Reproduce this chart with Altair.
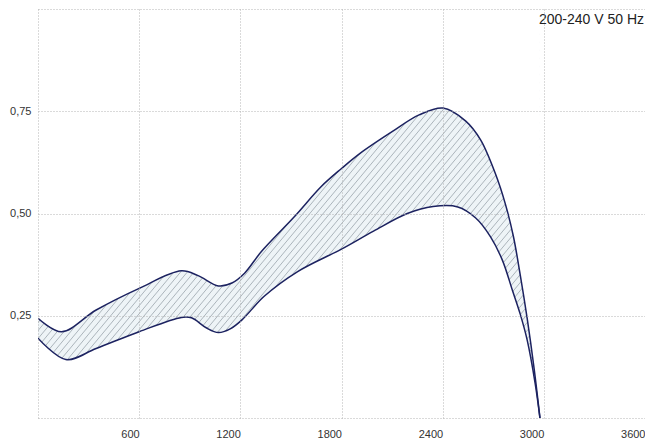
import altair as alt
import numpy as np
import pandas as pd

# Upper boundary of the operating band
upper_x = [0, 140, 345, 600, 850, 950, 1070, 1150, 1225, 1325, 1520, 1680, 1800, 1910,
           2100, 2260, 2402, 2537, 2625, 2713, 2772, 2819, 2860, 2901, 2942, 2977]
upper_y = [0.244, 0.211, 0.264, 0.317, 0.36, 0.348, 0.323, 0.33, 0.354, 0.407, 0.492, 0.566,
           0.61, 0.647, 0.70, 0.741, 0.758, 0.726, 0.68, 0.597, 0.523, 0.445, 0.35, 0.244,
           0.122, 0.0]

# Lower boundary of the operating band
lower_x = [0, 165, 345, 600, 850, 910, 1000, 1070, 1140, 1210, 1340, 1540, 1800, 1990, 2190,
           2343, 2490, 2596, 2684, 2754, 2813, 2860, 2901, 2948, 2977]
lower_y = [0.195, 0.143, 0.17, 0.211, 0.246, 0.245, 0.22, 0.209, 0.218, 0.240, 0.297, 0.358,
           0.413, 0.457, 0.50, 0.517, 0.516, 0.489, 0.443, 0.386, 0.313, 0.254, 0.191,
           0.086, 0.0]

x_ticks = [0, 600, 1200, 1800, 2400, 3000, 3600]
y_ticks = [0, 0.25, 0.5, 0.75, 1.0]
label_text = "200-240 V 50 Hz"

W, H = 607, 409
X_MAX, Y_MAX = 3600, 1.0
CURVE = "catmull-rom"

up = pd.DataFrame({"x": upper_x, "y": upper_y, "top": 1.05})
lo = pd.DataFrame({"x": lower_x, "y": lower_y, "bot": -0.05})
right = pd.DataFrame({"x": [max(upper_x)], "x2": [3700], "y": [-0.05], "y2": [1.05]})

# hatch pattern (decoration): diagonal "/" lines
slope_px = 1.2
dx_data = (H / slope_px) / W * X_MAX
step = 6.7 / W * X_MAX
starts = np.arange(-dx_data, X_MAX, step)
hatch = pd.DataFrame({"hx": starts, "hx2": starts + dx_data, "hy": 0.0, "hy2": 1.0})

xscale = alt.Scale(domain=[0, X_MAX], nice=False, zero=False)
yscale = alt.Scale(domain=[0, Y_MAX], nice=False, zero=False)

grid_common = dict(grid=True, gridColor="#b4b4b4", gridDash=[1, 2], gridWidth=1,
                   domain=False, ticks=False, title=None, zindex=1,
                   labelFont="Liberation Sans", labelFontSize=11, labelColor="#333333")
xaxis = alt.Axis(values=x_ticks, labelAlign="right", labelPadding=10,
                 labelExpr="datum.value == 0 ? '' : format(datum.value, 'd')", **grid_common)
yaxis = alt.Axis(values=y_ticks, labelPadding=7, labelBaseline="middle",
                 labelExpr="(datum.value == 0 || datum.value == 1) ? '' : replace(format(datum.value, '.2f'), '.', ',')",
                 **grid_common)


def X(f):
    return alt.X(f, type="quantitative", scale=xscale, axis=xaxis)


def Y(f):
    return alt.Y(f, type="quantitative", scale=yscale, axis=yaxis)


hatch_layer = alt.Chart(hatch).mark_rule(clip=True, color="#9aa4ac", strokeWidth=0.8).encode(
    x=X("hx"), x2="hx2", y=Y("hy"), y2="hy2")

upper_cover = alt.Chart(up).mark_area(clip=True, color="white", interpolate=CURVE, opacity=1).encode(
    x=X("x"), y=Y("y"), y2="top")
lower_cover = alt.Chart(lo).mark_area(clip=True, color="white", interpolate=CURVE, opacity=1).encode(
    x=X("x"), y=Y("bot"), y2="y")
right_cover = alt.Chart(right).mark_rect(clip=True, color="white").encode(
    x=X("x"), x2="x2", y=Y("y"), y2="y2")

upper_line = alt.Chart(up).mark_line(clip=True, color="#1c2260", strokeWidth=1.5, interpolate=CURVE).encode(
    x=X("x"), y=Y("y"))
lower_line = alt.Chart(lo).mark_line(clip=True, color="#1c2260", strokeWidth=1.5, interpolate=CURVE).encode(
    x=X("x"), y=Y("y"))

text_layer = alt.Chart(pd.DataFrame({"t": [label_text]})).mark_text(
    align="right", baseline="middle", font="Liberation Sans", fontSize=14, color="#222222"
).encode(x=alt.value(W - 1), y=alt.value(11), text="t:N")

chart = alt.layer(
    hatch_layer, upper_cover, lower_cover, right_cover, upper_line, lower_line, text_layer
).properties(
    width=W, height=H,
    autosize=alt.AutoSizeParams(type="none"),
    padding={"left": 30, "top": 1, "right": 0, "bottom": 26},
).configure_view(stroke=None, fill="#eef4f7")

chart.save("out.html", embed_options={"renderer": "svg", "actions": False})
